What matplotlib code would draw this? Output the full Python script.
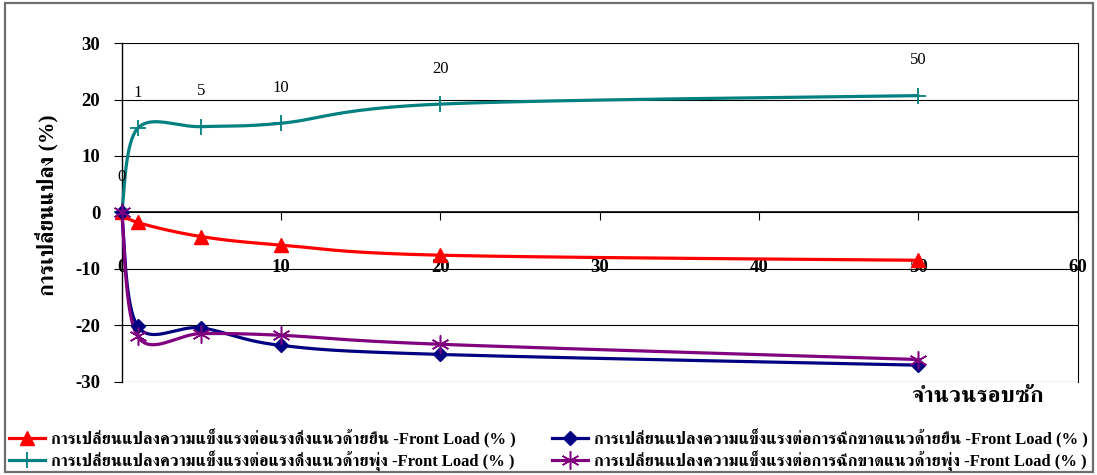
import numpy as np
import matplotlib
matplotlib.use("Agg")
import matplotlib.pyplot as plt
from matplotlib.lines import Line2D
from matplotlib.patches import Rectangle

# ---- data -------------------------------------------------------------
cycles = [0, 1, 5, 10, 20, 50]
tensile_warp = [0, -1.8, -4.3, -5.8, -7.6, -8.5]      # red, triangles
tensile_weft = [0, 14.9, 15.2, 15.8, 19.2, 20.7]      # teal, plus
tear_warp = [0, -20.2, -20.5, -23.6, -25.2, -27.1]    # navy, diamonds
tear_weft = [0, -22.0, -21.5, -21.8, -23.4, -26.1]    # purple, stars

series_labels = [
    "การเปลี่ยนแปลงความแข็งแรงต่อแรงดึงแนวด้ายยืน -Front Load (% )",
    "การเปลี่ยนแปลงความแข็งแรงต่อแรงดึงแนวด้ายพุ่ง -Front Load (% )",
    "การเปลี่ยนแปลงความแข็งแรงต่อการฉีกขาดแนวด้ายยืน -Front Load (% )",
    "การเปลี่ยนแปลงความแข็งแรงต่อการฉีกขาดแนวด้ายพุ่ง -Front Load (% )",
]
x_ticks = [0, 10, 20, 30, 40, 50, 60]
y_ticks = [-30, -20, -10, 0, 10, 20, 30]
y_label = "การเปลี่ยนแปลง (%)"
x_label = "จำนวนรอบซัก"

FONT = ["Liberation Serif", "FreeSerif", "Taviraj"]
plt.rcParams["font.family"] = FONT
plt.rcParams["axes.unicode_minus"] = False

W, H = 1097, 475
fig = plt.figure(figsize=(W / 100, H / 100), dpi=100)
ax = fig.add_axes([121.7 / W, 1 - 381.5 / H, (1077.5 - 121.7) / W, (381.5 - 43.2) / H])


def smooth_curve(xs, ys, sx, sy, n=40):
    """Bezier smoothing through every point (control arms = neighbour span / 6)."""
    P = np.column_stack([np.asarray(xs, float) * sx, np.asarray(ys, float) * sy])
    pieces = []
    t = np.linspace(0, 1, n)[:, None]
    for i in range(len(P) - 1):
        p0 = P[i - 1] if i > 0 else P[i]
        p1, p2 = P[i], P[i + 1]
        p3 = P[i + 2] if i + 2 < len(P) else P[i + 1]
        c1 = p1 + (p2 - p0) / 6
        c2 = p2 - (p3 - p1) / 6
        seg = (1 - t) ** 3 * p1 + 3 * (1 - t) ** 2 * t * c1 + 3 * (1 - t) * t ** 2 * c2 + t ** 3 * p2
        pieces.append(seg if i == 0 else seg[1:])
    pts = np.vstack(pieces)
    return pts[:, 0] / sx, pts[:, 1] / sy


ax.set_xlim(0, 60)
ax.set_ylim(-30, 30)
sx = (1077.5 - 121.7) / 60.0
sy = (381.5 - 43.2) / 60.0

styles = [
    (tensile_warp, "#FF0000", dict(marker="^", ms=10)),
    (tensile_weft, "#008080", dict(marker="+", ms=12, mew=1.3)),
    (tear_warp, "#000080", dict(marker="D", ms=7.5)),
    (tear_weft, "#800080", dict(marker=(6, 2, 0), ms=13, mew=1.1)),
]
handles = []
for (vals, color, mk), lab in zip(styles, series_labels):
    cx, cy = smooth_curve(cycles, vals, sx, sy)
    ax.plot(cx, cy, color=color, lw=2.3, solid_capstyle="round", zorder=3, clip_on=False)
    ax.plot(cycles, vals, ls="none", color=color, mec=color, mfc=color, zorder=4,
            clip_on=False, **mk)
    handles.append(Line2D([], [], color=color, lw=2.3, mec=color, mfc=color, **mk))

# cycle count labels above the weft tensile points
for xv, yv in zip(cycles, tensile_weft):
    ax.annotate(str(xv), (xv, yv), xytext=(0, 35.5), textcoords="offset pixels",
                ha="center", va="center", fontsize=12, color="black")

# axes frame
ax.spines["top"].set_visible(False)
ax.spines["bottom"].set_position(("data", 0))
ax.spines["bottom"].set_linewidth(1.2)
ax.spines["left"].set_linewidth(1.0)
ax.spines["right"].set_linewidth(0.8)
ax.set_yticks(y_ticks)
ax.set_xticks(x_ticks)
ax.yaxis.grid(True, color="black", lw=0.8)
ax.set_axisbelow(True)
ax.tick_params(axis="y", direction="out", length=6, width=0.8, pad=9.5, labelsize=13.5)
ax.tick_params(axis="x", direction="out", length=6, width=0.8, pad=34, labelsize=13.5)
for lbl in ax.get_yticklabels():
    lbl.set_fontweight("bold")
for lbl in ax.get_xticklabels():
    lbl.set_fontweight("bold")
    lbl.set_va("center")

ax.set_ylabel(y_label, fontsize=15.5, fontweight="bold")
ax.yaxis.set_label_coords(-0.066, 0.52)
fig.text(978 / W, 1 - 397 / H, x_label, ha="center", va="center", fontsize=16.5, fontweight="bold")

# legend under the plot
fig.legend(handles, series_labels, ncol=2, loc="center left",
           bbox_to_anchor=(9 / W, 1 - 449.5 / H), frameon=False,
           prop=dict(family=FONT, weight="bold", size=12),
           handlelength=2.15, handletextpad=0.36, columnspacing=2.2,
           labelspacing=0.12, borderaxespad=0, borderpad=0)

# chart area border
fig.patches.append(Rectangle((5 / W, 3 / H), 1088 / W, 469 / H, transform=fig.transFigure,
                             fill=False, edgecolor="#6e6e6e", lw=1.6))

fig.savefig("out.png", dpi=100)
